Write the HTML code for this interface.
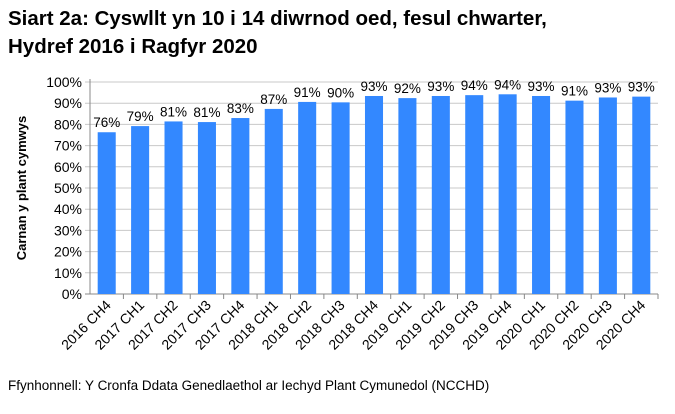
<!DOCTYPE html>
<html><head><meta charset="utf-8"><style>
body{margin:0;background:#fff;font-family:"Liberation Sans",Arial,sans-serif}
svg text{font-family:"Liberation Sans",Arial,sans-serif}
</style></head><body>
<svg width="675" height="409">
<text x="8" y="25" font-size="20.5" font-weight="bold">Siart 2a: Cyswllt yn 10 i 14 diwrnod oed, fesul chwarter,</text>
<text x="8" y="53" font-size="20.5" font-weight="bold">Hydref 2016 i Ragfyr 2020</text>
<text transform="translate(26,188) rotate(-90)" text-anchor="middle" font-size="13" font-weight="bold">Carnan y plant cymwys</text>
<g id="grid"></g><g id="bars"></g><g id="axes"></g>
<text x="8" y="390" font-size="13.5">Ffynhonnell: Y Cronfa Ddata Genedlaethol ar Iechyd Plant Cymunedol (NCCHD)</text>
</svg>
<script>
const categories=["2016 CH4","2017 CH1","2017 CH2","2017 CH3","2017 CH4","2018 CH1","2018 CH2","2018 CH3","2018 CH4","2019 CH1","2019 CH2","2019 CH3","2019 CH4","2020 CH1","2020 CH2","2020 CH3","2020 CH4"];
const values=[76.3,79.2,81.4,81.1,83.0,87.3,90.6,90.4,93.4,92.4,93.4,93.8,94.2,93.4,91.2,92.7,93.1];
const labels=["76%","79%","81%","81%","83%","87%","91%","90%","93%","92%","93%","94%","94%","93%","91%","93%","93%"];
const yTicks=[0,10,20,30,40,50,60,70,80,90,100];
const NS="http://www.w3.org/2000/svg";
const X0=90,X1=658,Y0=294,Y1=82;
const bw=(X1-X0)/categories.length;
const y=v=>Y0-(v/100)*(Y0-Y1);
const xc=i=>X0+bw*(i+0.5);
function mk(t,a,p){const e=document.createElementNS(NS,t);for(const k in a)e.setAttribute(k,a[k]);p.appendChild(e);return e;}
const grid=document.getElementById('grid'),bars=document.getElementById('bars'),axes=document.getElementById('axes');
yTicks.forEach(t=>{
 const l=mk('line',{x1:X0-5,x2:X1,y1:y(t),y2:y(t),stroke:t===0?'#888':'#c8c8c8','stroke-width':1},grid);
 
 
 const tx=mk('text',{x:X0-8,y:y(t)+5,'text-anchor':'end','font-size':14},axes);
 tx.textContent=t+'%';
 
 
});
mk('line',{x1:X0,x2:X0,y1:Y1-3,y2:Y0,stroke:'#888'},axes);
categories.forEach((c,i)=>{
 const w=bw*0.54;
 const r=mk('rect',{x:xc(i)-w/2,y:y(values[i]),width:w,height:Y0-y(values[i]),fill:'#3388ff'},bars);
 
 
 const lb=mk('text',{x:xc(i),y:y(values[i])-5,'text-anchor':'middle','font-size':13.5},bars);
 lb.textContent=labels[i];
 
 
 mk('line',{x1:X0+bw*(i+1),x2:X0+bw*(i+1),y1:Y0,y2:Y0+5,stroke:'#888'},axes);
 const tx=mk('text',{transform:`translate(${xc(i)+5},${Y0+12}) rotate(-45)`,'text-anchor':'end','font-size':14},axes);
 tx.textContent=c;
 
 
});
</script>
</body></html>
